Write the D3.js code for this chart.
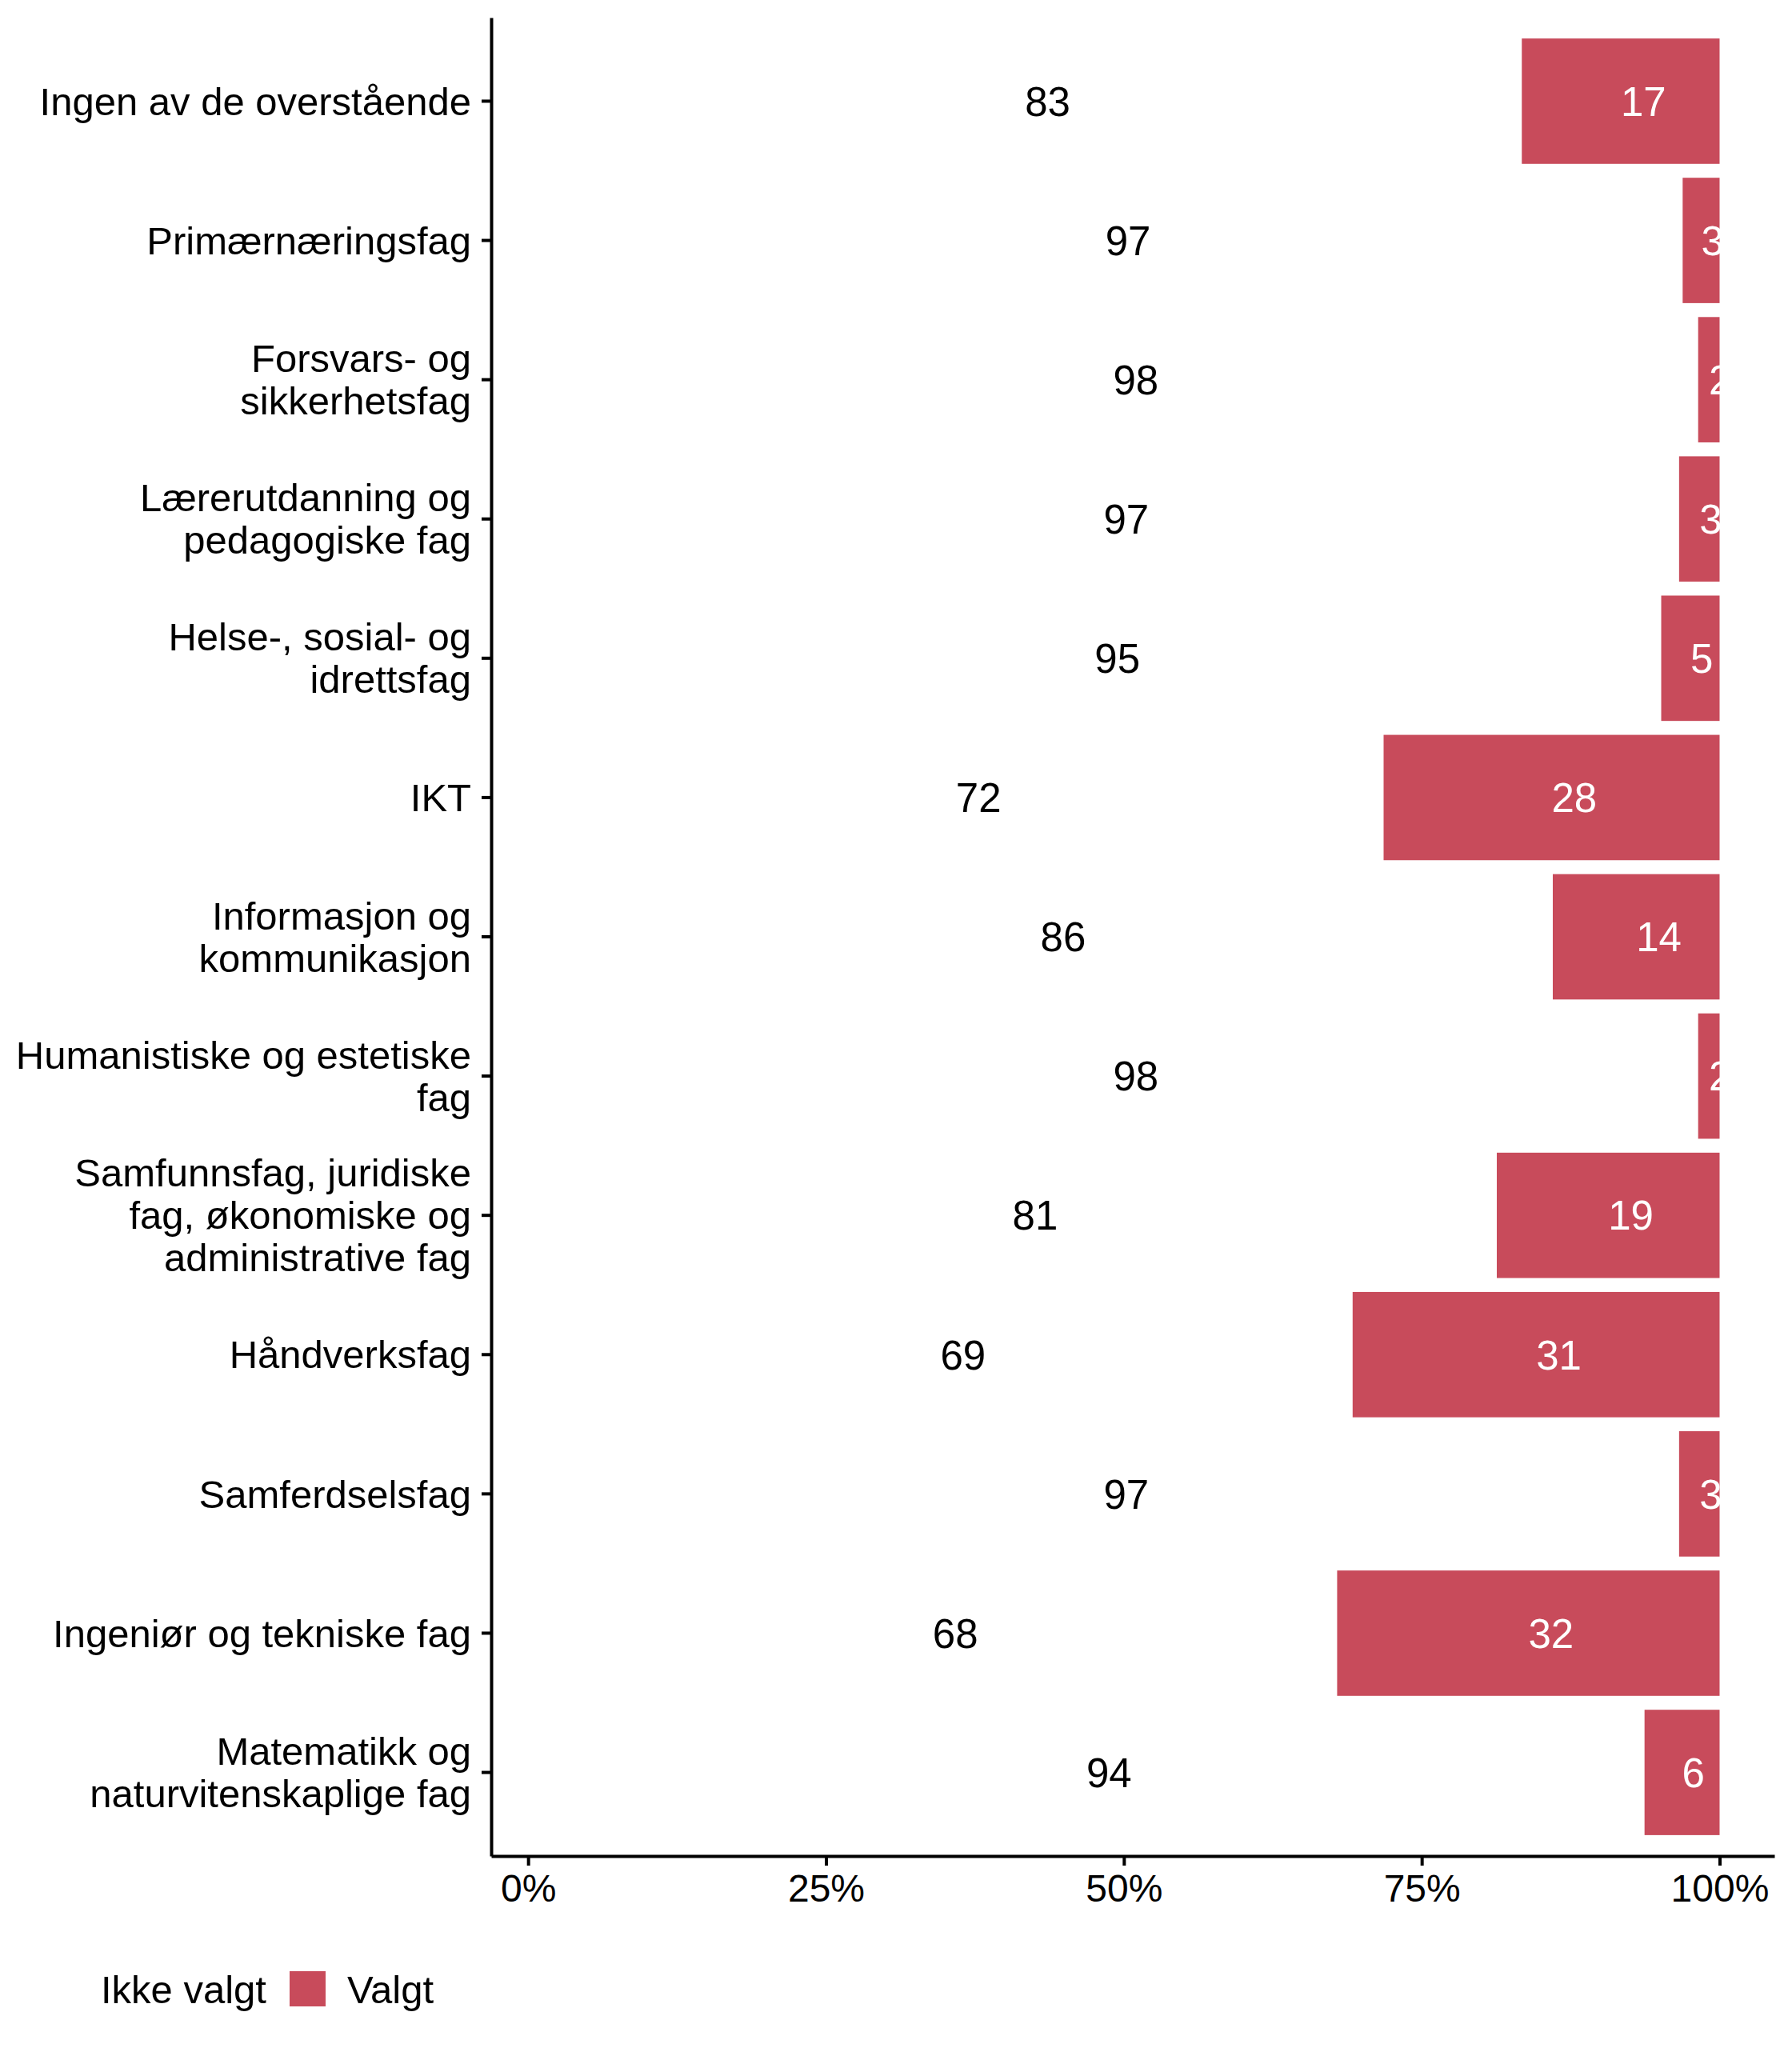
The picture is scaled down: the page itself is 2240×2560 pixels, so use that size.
<!DOCTYPE html>
<html>
<head>
<meta charset="utf-8">
<script src="https://cdn.jsdelivr.net/npm/d3@7"></script>
<style>
body { margin: 0; background: #fff; }
text { font-family: "Liberation Sans", Arial, sans-serif; }
</style>
</head>
<body>
<div id="canva"></div>
<script>
const categories = [
    "Ingen av de overstående",
    "Primærnæringsfag",
    "Forsvars- og\nsikkerhetsfag",
    "Lærerutdanning og\npedagogiske fag",
    "Helse-, sosial- og\nidrettsfag",
    "IKT",
    "Informasjon og\nkommunikasjon",
    "Humanistiske og estetiske\nfag",
    "Samfunnsfag, juridiske\nfag, økonomiske og\nadministrative fag",
    "Håndverksfag",
    "Samferdselsfag",
    "Ingeniør og tekniske fag",
    "Matematikk og\nnaturvitenskaplige fag"
];
const ikkeValgt = [83.4, 96.9, 98.2, 96.6, 95.1, 71.8, 86.0, 98.2, 81.3, 69.2, 96.6, 67.9, 93.7];
const valgt     = [16.6, 3.1, 1.8, 3.4, 4.9, 28.2, 14.0, 1.8, 18.7, 30.8, 3.4, 32.1, 6.3];
const seriesNames = ["Ikke valgt", "Valgt"];
const seriesColors = ["#ffffff", "#c84b5b"];
const labelColors = ["#000000", "#ffffff"];
const xTicks = [0, 25, 50, 75, 100];

const width = 2240;
const height = 2560;
const plot = { left: 614, right: 2218, top: 22, bottom: 2320 };

const rows = categories.map((c, i) => ({ name: c, "Ikke valgt": ikkeValgt[i], "Valgt": valgt[i] }));

const svg = d3.select("#canva").append("svg")
    .attr("width", width)
    .attr("height", height);
svg.append("rect").attr("width", width).attr("height", height).attr("fill", "#fff");

const x = d3.scaleLinear()
    .domain([-3.1, 104.6])
    .range([plot.left, plot.right]);

const y = d3.scaleBand()
    .domain(categories)
    .range([plot.top, plot.bottom])
    .paddingInner(0.1)
    .paddingOuter(0.15);

const stacked = d3.stack().keys(seriesNames)(rows);

// bars
const layers = svg.append("g").selectAll("g").data(stacked).enter().append("g")
    .attr("fill", (d, i) => seriesColors[i]);

layers.selectAll("rect").data(d => d).enter().append("rect")
    .attr("x", d => x(d[0]))
    .attr("y", d => y(d.data.name))
    .attr("width", d => x(d[1]) - x(d[0]))
    .attr("height", y.bandwidth());

// value labels (left edge at the middle of each segment)
const valueSize = 51;
stacked.forEach((layer, i) => {
    svg.append("g").selectAll("text").data(layer).enter().append("text")
        .attr("x", d => x((d[0] + d[1]) / 2))
        .attr("y", d => y(d.data.name) + y.bandwidth() / 2 + valueSize * 0.358)
        .attr("fill", labelColors[i])
        .attr("font-size", valueSize)
        .text(d => Math.round(d[1] - d[0]));
});

// y axis
const ySize = 49;
const lineH = 53;
const yAxis = svg.append("g")
    .attr("transform", `translate(${plot.left},0)`)
    .call(d3.axisLeft(y).tickSize(12).tickPadding(13).tickSizeOuter(0));
yAxis.attr("font-family", null).attr("font-size", ySize);
yAxis.selectAll("line, path").attr("stroke", "#000").attr("stroke-width", 4);
yAxis.selectAll(".tick text").each(function (d) {
    const lines = d.split("\n");
    const t = d3.select(this).text(null).attr("dy", null).attr("fill", "#000")
        .attr("y", -(lines.length - 1) * lineH / 2 + ySize * 0.35);
    lines.forEach((l, k) => {
        t.append("tspan").attr("x", -25).attr("dy", k === 0 ? 0 : lineH).text(l);
    });
});

// x axis
const xAxis = svg.append("g")
    .attr("transform", `translate(0,${plot.bottom})`)
    .call(d3.axisBottom(x).tickValues(xTicks).tickFormat(d => d + "%")
        .tickSize(12).tickPadding(11).tickSizeOuter(0));
xAxis.attr("font-family", null).attr("font-size", 48);
xAxis.selectAll("line, path").attr("stroke", "#000").attr("stroke-width", 4);
xAxis.selectAll("text").attr("fill", "#000");

// legend
const legendSize = 49;
const legend = svg.append("g").attr("transform", "translate(54,2464)");
let lx = 0;
seriesNames.forEach((name, i) => {
    legend.append("rect")
        .attr("x", lx).attr("y", 0)
        .attr("width", 45).attr("height", 44)
        .attr("fill", seriesColors[i]);
    const t = legend.append("text")
        .attr("x", lx + 72)
        .attr("y", 40)
        .attr("font-size", legendSize)
        .attr("fill", "#000")
        .text(name);
    lx += 72 + t.node().getComputedTextLength() + 29;
});
</script>
</body>
</html>
